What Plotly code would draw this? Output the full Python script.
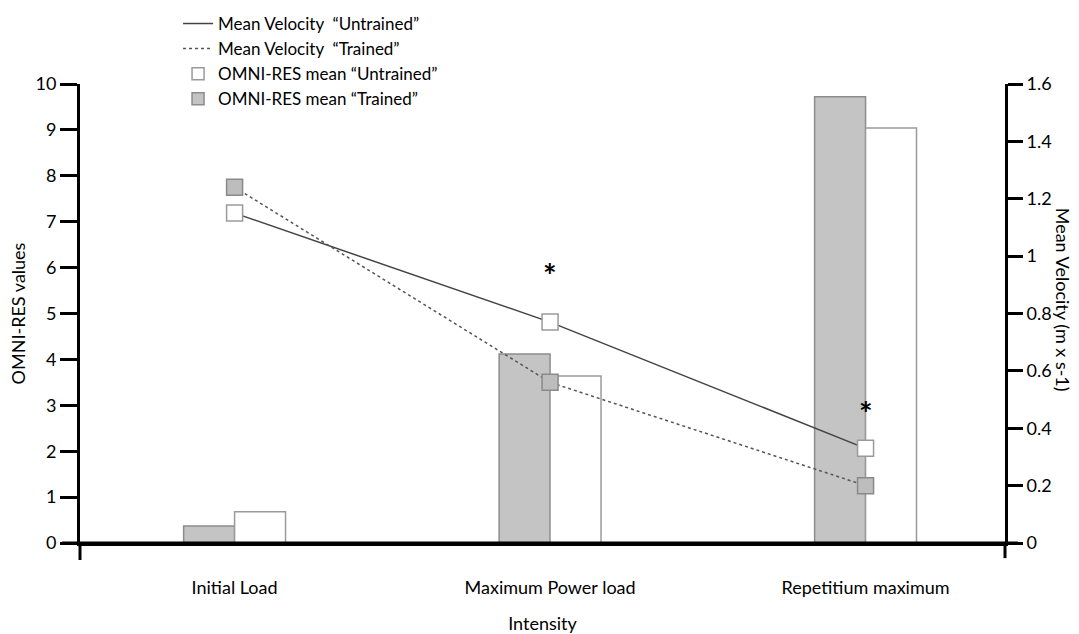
import plotly.graph_objects as go

categories = ["Initial Load", "Maximum Power load", "Repetitium maximum"]
omni_trained = [0.37, 4.12, 9.72]
omni_untrained = [0.68, 3.64, 9.04]
vel_untrained = [1.15, 0.77, 0.33]
vel_trained = [1.24, 0.56, 0.20]
left_ticks = [0, 1, 2, 3, 4, 5, 6, 7, 8, 9, 10]
right_ticks = [0, 0.2, 0.4, 0.6, 0.8, 1, 1.2, 1.4, 1.6]
right_ticktext = ["0", "0.2", "0.4", "0.6", "0.8", "1", "1.2", "1.4", "1.6"]
asterisk_cats = ["Maximum Power load", "Repetitium maximum"]
asterisk_y = [6.0, 3.0]

FONT = "Lato"

fig = go.Figure()

# Bars (left axis)
fig.add_trace(go.Bar(
    x=categories, y=omni_trained, name="OMNI-RES mean \u201cTrained\u201d",
    marker=dict(color="#c4c4c4", line=dict(color="#8c8c8c", width=1.5)),
    legendrank=4, legendgroup="d",
))
fig.add_trace(go.Bar(
    x=categories, y=omni_untrained, name="OMNI-RES mean \u201cUntrained\u201d",
    marker=dict(color="#ffffff", line=dict(color="#9a9a9a", width=1.5)),
    legendrank=3, legendgroup="c",
))

# Velocity lines (right axis)
fig.add_trace(go.Scatter(
    x=categories, y=vel_untrained, yaxis="y2", mode="lines",
    name="Mean Velocity  \u201cUntrained\u201d",
    line=dict(color="#444444", width=1.5),
    legendrank=1, legendgroup="a",
))
fig.add_trace(go.Scatter(
    x=categories, y=vel_trained, yaxis="y2", mode="lines",
    name="Mean Velocity  \u201cTrained\u201d",
    line=dict(color="#555555", width=1.5, dash="dot"),
    legendrank=2, legendgroup="b",
))
fig.add_trace(go.Scatter(
    x=categories, y=vel_untrained, yaxis="y2", mode="markers", showlegend=False,
    marker=dict(symbol="square", size=16, color="#ffffff",
                line=dict(color="#9a9a9a", width=1.5)),
))
fig.add_trace(go.Scatter(
    x=categories, y=vel_trained, yaxis="y2", mode="markers", showlegend=False,
    marker=dict(symbol="square", size=16, color="#bdbdbd",
                line=dict(color="#8a8a8a", width=1.5)),
))

for c, yv in zip(asterisk_cats, asterisk_y):
    fig.add_annotation(x=c, y=yv, xref="x", yref="y", text="<b>*</b>",
                       showarrow=False, font=dict(size=32, color="black", family=FONT),
                       yshift=-8)

# Right axis title (reads top to bottom)
fig.add_annotation(x=1.0627, y=0.53, xref="paper", yref="paper",
                   xanchor="center", yanchor="middle",
                   text="Mean Velocity (m x s-1)", textangle=90, showarrow=False,
                   font=dict(size=18, color="black", family=FONT))

# crossing extensions of the axes
fig.add_shape(type="line", xref="paper", yref="paper", x0=-0.0195, x1=1.014, y0=0, y1=0,
              line=dict(color="black", width=3))
fig.add_shape(type="line", xref="paper", yref="paper", x0=0, x1=0, y0=0, y1=-0.037,
              line=dict(color="black", width=3))
fig.add_shape(type="line", xref="paper", yref="paper", x0=1, x1=1, y0=0, y1=-0.033,
              line=dict(color="black", width=3))

fig.update_layout(
    width=1079, height=634,
    margin=dict(l=80, r=74, t=84, b=91, autoexpand=False),
    paper_bgcolor="white", plot_bgcolor="white",
    font=dict(family=FONT, size=18, color="black"),
    barmode="group", bargap=0.677, bargroupgap=0,
    showlegend=True,
    legend=dict(x=0.106, y=1.17, xanchor="left", yanchor="top",
                bgcolor="rgba(0,0,0,0)", traceorder="grouped", tracegroupgap=0,
                font=dict(size=17, family=FONT)),
    xaxis=dict(
        type="category", range=[-0.49, 2.442],
        showline=True, linecolor="black", linewidth=3,
        ticks="", showgrid=False, zeroline=False,
        ticklabelstandoff=26, automargin=False,
        title=dict(text="Intensity", standoff=24, font=dict(size=18)),
    ),
    yaxis=dict(
        range=[0, 10], tickvals=left_ticks,
        showline=True, linecolor="black", linewidth=3,
        ticks="outside", ticklen=17, tickwidth=3, tickcolor="black",
        showgrid=False, zeroline=False, automargin=False,
        title=dict(text="OMNI-RES values", standoff=6, font=dict(size=18)),
    ),
    yaxis2=dict(
        range=[0, 1.6], overlaying="y", side="right",
        tickvals=right_ticks, ticktext=right_ticktext,
        showline=True, linecolor="black", linewidth=3,
        ticks="outside", ticklen=15, tickwidth=3, tickcolor="black",
        showgrid=False, zeroline=False, automargin=False,
    ),
)

fig.write_html("out.html", config={"displayModeBar": False},
               post_script="document.body.style.margin='0px';")
